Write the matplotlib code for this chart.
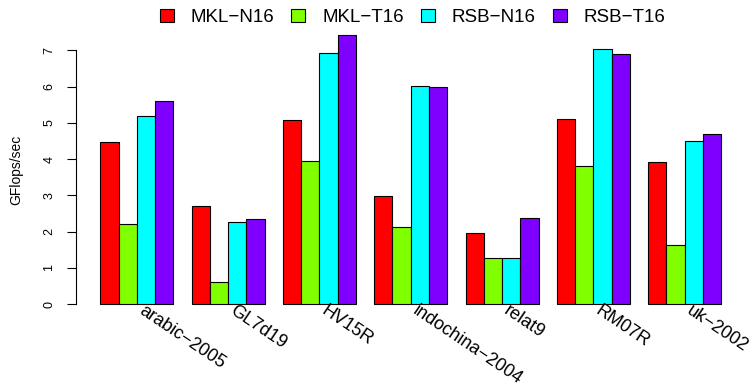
import matplotlib
matplotlib.use("Agg")
import matplotlib.pyplot as plt
import numpy as np

plt.rcParams['font.family'] = ['Liberation Sans', 'DejaVu Sans']

categories = ["arabic\u22122005", "GL7d19", "HV15R", "indochina\u22122004", "relat9", "RM07R", "uk\u22122002"]
series_names = ["MKL\u2212N16", "MKL\u2212T16", "RSB\u2212N16", "RSB\u2212T16"]
mkl_n16 = [4.47, 2.72, 5.07, 2.99, 1.97, 5.11, 3.93]
mkl_t16 = [2.21, 0.60, 3.95, 2.14, 1.26, 3.82, 1.62]
rsb_n16 = [5.20, 2.27, 6.92, 6.03, 1.26, 7.03, 4.51]
rsb_t16 = [5.60, 2.36, 7.43, 6.00, 2.37, 6.91, 4.70]
colors = ["#FF0000", "#80FF00", "#00FFFF", "#8000FF"]
yticks = [0, 1, 2, 3, 4, 5, 6, 7]

W, H = 751, 383
fig = plt.figure(figsize=(W / 100, H / 100), dpi=100)
ax = fig.add_axes([75.5 / W, 1 - 314.8 / H, (746 - 75.5) / W, (314.8 - 24) / H])

series = [mkl_n16, mkl_t16, rsb_n16, rsb_t16]
n = len(categories)
handles = []
for j, (vals, c) in enumerate(zip(series, colors)):
    x = np.arange(n) * 5 + 1 + j
    b = ax.bar(x, vals, width=1, align='edge', color=c, edgecolor='black', linewidth=0.8)
    handles.append(b)

ax.set_xlim(-0.36, 36.36)
ax.set_ylim(-0.297, 7.73)
for s in ['top', 'right', 'bottom']:
    ax.spines[s].set_visible(False)
ax.spines['left'].set_bounds(0, 7)
ax.spines['left'].set_linewidth(0.8)
ax.set_xticks([])
ax.set_yticks(yticks)
ax.set_yticklabels([str(t) for t in yticks], rotation=90, va='center', fontsize=9)
ax.tick_params(axis='y', length=6.5, width=0.8, pad=8)
fig.text(16.5 / W, 1 - 170 / H, "GFlops/sec", rotation=90, ha='center', va='center', fontsize=10)

centers = np.arange(n) * 5 + 3
for cx, lab in zip(centers, categories):
    ax.text(cx + 0.05, -0.25, lab, rotation=-34, rotation_mode='anchor', ha='left', va='baseline',
            fontsize=13, clip_on=False)

leg = fig.legend(handles, series_names, loc='center', bbox_to_anchor=(412.5 / W, 1 - 17.5 / H),
                 ncol=4, frameon=False, fontsize=13.5, handlelength=0.75, handleheight=0.7,
                 columnspacing=0.92, handletextpad=0.89, borderpad=0, borderaxespad=0)

fig.savefig("out.png", dpi=100)
